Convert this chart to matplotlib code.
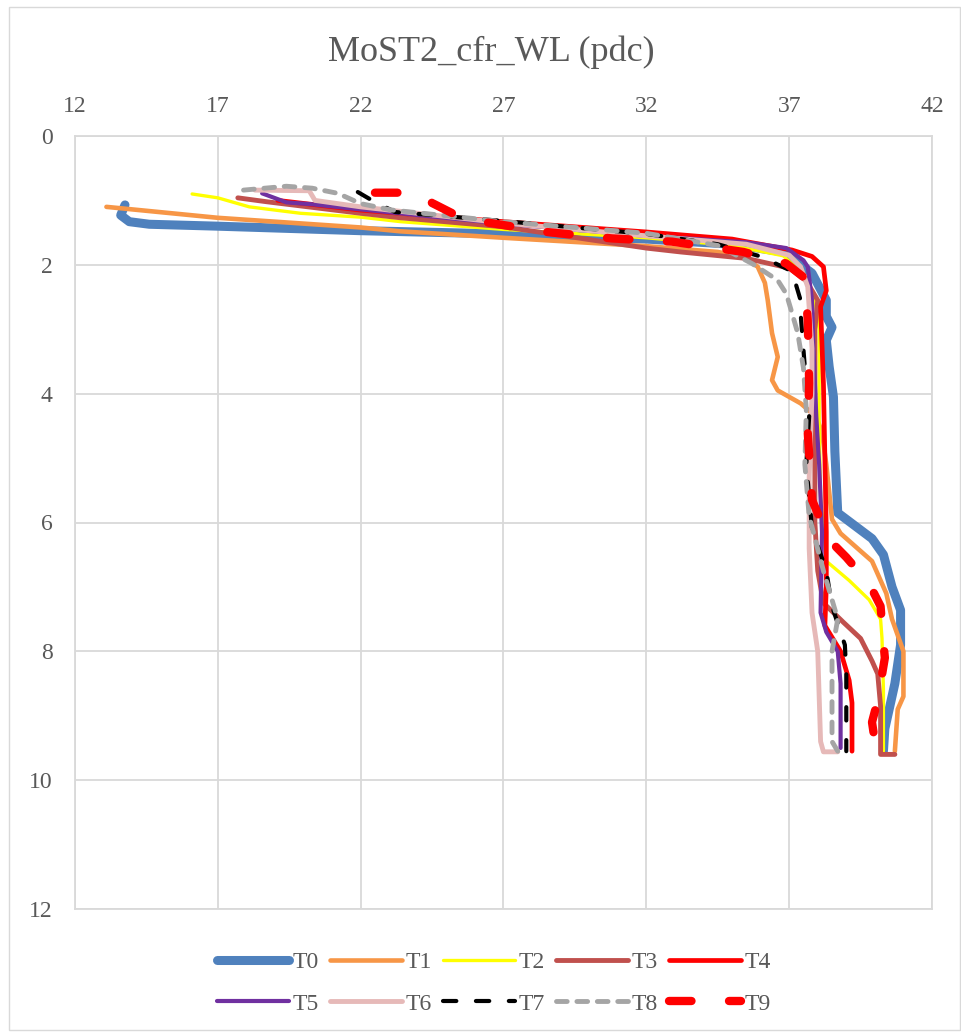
import matplotlib
matplotlib.use("Agg")
import matplotlib.pyplot as plt
from matplotlib.patches import Rectangle

plt.rcParams['font.family'] = ['Liberation Serif', 'DejaVu Serif']

title = "MoST2_cfr_WL (pdc)"
labels = ["T0", "T1", "T2", "T3", "T4", "T5", "T6", "T7", "T8", "T9"]
x_ticks = [12, 17, 22, 27, 32, 37, 42]
y_ticks = [0, 2, 4, 6, 8, 10, 12]

t0_temp = [13.75, 13.6, 13.9, 14.6, 17.0, 22.0, 27.0, 32.0, 35.0, 36.8, 37.8, 38.3, 38.3, 38.5, 38.3, 38.4, 38.55, 38.6, 38.7, 39.3, 39.9, 40.3, 40.6, 40.9, 40.9, 40.7, 40.5, 40.35, 40.3]
t0_depth = [1.07, 1.23, 1.33, 1.37, 1.40, 1.47, 1.52, 1.60, 1.68, 1.80, 2.13, 2.55, 2.80, 2.97, 3.17, 3.58, 4.05, 4.90, 5.85, 6.05, 6.25, 6.50, 7.00, 7.36, 7.90, 8.50, 8.90, 9.20, 9.55]

t1_temp = [13.1, 17.0, 22.0, 23.4, 27.0, 32.0, 34.5, 35.4, 35.9, 36.15, 36.25, 36.4, 36.6, 36.4, 36.6, 37.4, 37.95, 38.15, 38.3, 38.5, 38.8, 39.9, 40.4, 40.6, 41.0, 41.0, 40.8, 40.7]
t1_depth = [1.10, 1.27, 1.42, 1.48, 1.58, 1.71, 1.80, 1.88, 2.03, 2.28, 2.55, 3.06, 3.43, 3.79, 3.95, 4.15, 4.36, 4.60, 5.10, 5.95, 6.17, 6.60, 7.10, 7.50, 8.00, 8.70, 8.90, 9.55]

t2_temp = [16.1, 17.0, 18.1, 19.9, 22.0, 23.4, 27.0, 32.0, 35.0, 36.8, 37.6, 37.9, 38.05, 38.05, 38.1, 38.3, 39.1, 39.8, 40.2, 40.25, 40.3, 40.3]
t2_depth = [0.90, 0.96, 1.10, 1.20, 1.26, 1.33, 1.45, 1.58, 1.70, 1.86, 2.20, 2.55, 3.00, 4.50, 5.60, 6.60, 6.90, 7.20, 7.50, 7.80, 8.60, 9.55]

t3_temp = [17.7, 18.7, 22.0, 23.4, 27.0, 32.0, 33.2, 35.5, 37.0, 37.6, 38.0, 37.9, 37.9, 37.9, 38.0, 38.2, 38.9, 39.5, 39.9, 40.1, 40.2, 40.2, 40.7]
t3_depth = [0.96, 1.02, 1.20, 1.27, 1.41, 1.74, 1.80, 1.90, 2.05, 2.25, 2.55, 3.00, 5.00, 6.00, 6.75, 7.25, 7.55, 7.80, 8.15, 8.35, 8.85, 9.60, 9.60]

t4_temp = [19.1, 22.0, 27.0, 32.0, 35.0, 37.1, 37.8, 38.2, 38.3, 38.1, 38.2, 38.25, 38.3, 38.3, 38.25, 38.8, 39.1, 39.2, 39.2]
t4_depth = [1.00, 1.15, 1.33, 1.49, 1.60, 1.77, 1.87, 2.03, 2.40, 2.65, 3.85, 5.00, 6.15, 7.00, 7.60, 8.00, 8.45, 8.80, 9.55]

t5_temp = [18.55, 19.4, 20.3, 22.0, 27.0, 32.0, 35.5, 36.9, 37.5, 37.65, 37.8, 37.85, 37.95, 38.05, 38.15, 38.1, 38.3, 38.7, 38.8, 38.8]
t5_depth = [0.89, 1.03, 1.06, 1.14, 1.36, 1.55, 1.65, 1.74, 1.93, 2.03, 2.55, 3.30, 4.36, 5.10, 6.15, 7.40, 7.70, 8.00, 8.50, 9.50]

t6_temp = [18.3, 20.2, 20.4, 22.0, 27.0, 32.0, 35.5, 37.0, 37.4, 37.65, 37.8, 37.8, 37.7, 37.7, 37.7, 37.8, 38.0, 38.1, 38.2, 38.7]
t6_depth = [0.84, 0.85, 1.00, 1.10, 1.35, 1.55, 1.68, 1.85, 2.03, 2.34, 3.30, 4.00, 5.30, 5.65, 6.40, 7.40, 8.00, 9.40, 9.56, 9.56]

t7_temp = [21.9, 22.4, 23.2, 27.0, 32.0, 34.5, 36.0, 37.1, 37.4, 37.4, 37.55, 37.7, 37.6, 37.8, 38.3, 38.5, 38.95, 39.0, 39.0]
t7_depth = [0.87, 1.00, 1.18, 1.32, 1.52, 1.68, 1.87, 2.10, 2.55, 2.75, 3.60, 4.35, 5.10, 6.10, 6.75, 7.30, 7.90, 8.35, 9.55]

t8_temp = [17.9, 19.4, 20.3, 21.2, 22.0, 23.1, 27.0, 32.0, 34.5, 35.7, 36.6, 36.9, 37.1, 37.3, 37.5, 37.6, 37.55, 37.7, 38.2, 38.7, 38.5, 38.5, 38.7]
t8_depth = [0.84, 0.78, 0.81, 0.89, 1.05, 1.15, 1.33, 1.51, 1.70, 1.98, 2.24, 2.45, 2.75, 3.06, 3.60, 4.25, 5.10, 5.90, 6.75, 7.50, 8.00, 9.40, 9.55]

t9_temp = [22.5, 23.6, 24.2, 24.5, 25.3, 26.4, 28.5, 30.8, 32.9, 35.4, 36.9, 37.5, 37.6, 37.65, 37.7, 37.65, 37.8, 38.4, 39.0, 39.8, 40.2, 40.3, 40.35, 40.1, 39.9, 40.0, 40.3]
t9_depth = [0.88, 0.88, 0.92, 1.04, 1.22, 1.34, 1.49, 1.59, 1.64, 1.80, 1.98, 2.19, 2.55, 2.86, 3.84, 4.60, 5.65, 6.27, 6.54, 6.95, 7.30, 7.87, 8.10, 8.76, 9.10, 9.40, 9.60]

series_temp = [t0_temp, t1_temp, t2_temp, t3_temp, t4_temp, t5_temp, t6_temp, t7_temp, t8_temp, t9_temp]
series_depth = [t0_depth, t1_depth, t2_depth, t3_depth, t4_depth, t5_depth, t6_depth, t7_depth, t8_depth, t9_depth]

colors = ["#4F81BD", "#F79646", "#FFFF00", "#C0504D", "#FF0000",
          "#7030A0", "#E6B9B8", "#000000", "#A5A5A5", "#FF0000"]
widths = [6.5, 3.3, 2.4, 3.5, 3.4, 3.0, 3.5, 3.0, 3.5, 6.0]
dashes = [None, None, None, None, None, None, None, (3.2, 4.7), (2.2, 2.0), (2.7, 4.5)]

W, H = 961, 1033
fig = plt.figure(figsize=(W / 100, H / 100), dpi=100)
fig.patches.append(Rectangle((9 / W, 0.003), 1 - 9 / W - 0.001, 1 - 7 / H - 0.003,
                             transform=fig.transFigure, fill=False,
                             edgecolor="#D9D9D9", linewidth=1.0))

ax = fig.add_axes([75 / W, 1 - 909 / H, (932 - 75) / W, (909 - 136) / H])

handles = []
for i in range(10):
    kw = dict(color=colors[i], linewidth=widths[i], solid_capstyle="round",
              dash_capstyle="round", solid_joinstyle="round")
    line, = ax.plot(series_temp[i], series_depth[i], label=labels[i], **kw)
    if dashes[i] is not None:
        line.set_dashes(dashes[i])
    handles.append(line)

ax.set_xlim(12, 42)
ax.set_ylim(12, 0)
ax.set_xticks(x_ticks)
ax.set_yticks(y_ticks)
ax.xaxis.tick_top()
ax.tick_params(axis="both", length=0, labelsize=17, labelcolor="#595959")
ax.tick_params(axis="x", pad=14)
ax.tick_params(axis="y", pad=16)
ax.grid(True, color="#D9D9D9", linewidth=1.3)
ax.set_axisbelow(True)
for s in ax.spines.values():
    s.set_color("#D9D9D9")
    s.set_linewidth(1.3)

fig.text(491 / W, 1 - 52 / H, title, ha="center", va="center",
         fontsize=26, color="#595959")

order = [0, 5, 1, 6, 2, 7, 3, 8, 4, 9]
fig.legend([handles[k] for k in order], [labels[k] for k in order],
           loc="center", bbox_to_anchor=(494 / W, 1 - 983 / H), ncol=5,
           frameon=False, fontsize=17, handlelength=3.05, handletextpad=0.17,
           columnspacing=0.45, labelspacing=0.85, labelcolor="#595959")

fig.savefig("out.png", dpi=100)
